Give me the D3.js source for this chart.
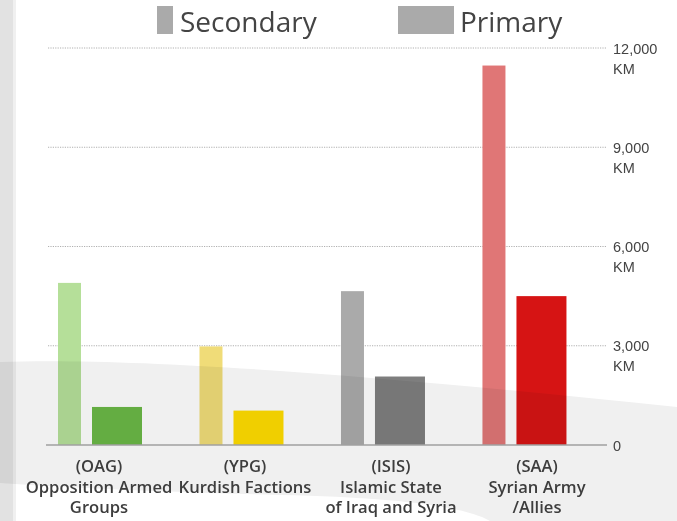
<!DOCTYPE html>
<html>
<head>
<meta charset="utf-8">
<script src="https://cdn.jsdelivr.net/npm/d3@7"></script>
<style>
  body { margin: 0; background: #fff; }
  svg { display: block; }
</style>
</head>
<body>
<div id="chart"></div>
<script>
const categories = ["OAG", "YPG", "ISIS", "SAA"];
const labelLines = [
  ["(OAG)", "Opposition Armed", "Groups"],
  ["(YPG)", "Kurdish Factions"],
  ["(ISIS)", "Islamic State", "of Iraq and Syria"],
  ["(SAA)", "Syrian Army", "/Allies"]
];
const seriesNames = ["Secondary", "Primary"];
const secondaryKm = [4900, 2980, 4650, 11470];
const primaryKm = [1150, 1040, 2070, 4500];
const yTicks = [0, 3000, 6000, 9000, 12000];

const secondaryColors = ["#b5df99", "#f0dc78", "#aaaaaa", "#e07676"];
const primaryColors = ["#6ab846", "#ffdc00", "#7e7e7e", "#d61414"];

const W = 677, H = 521;

const svg = d3.select("#chart").append("svg")
  .attr("width", W)
  .attr("height", H);

// left page edge (textured strip)
svg.append("rect").attr("x", 0).attr("y", 0).attr("width", 16).attr("height", H).attr("fill", "#f0f0f0");
svg.append("rect").attr("x", 0).attr("y", 0).attr("width", 13).attr("height", H).attr("fill", "#e2e2e2");

const y = d3.scaleLinear()
  .domain([0, 12000])
  .range([445, 48]);

const x = d3.scaleBand()
  .domain(categories)
  .range([58, 566.5])
  .paddingInner(0.406)
  .paddingOuter(0);

const labelX = d3.scalePoint()
  .domain(categories)
  .range([99, 537]);

// bar widths inside a group
const sub = {
  Secondary: { offset: 0, width: 23 },
  Primary: { offset: 34, width: 50 }
};

// gridlines
svg.append("g")
  .selectAll("line")
  .data(yTicks.filter(d => d > 0))
  .enter()
  .append("line")
  .attr("x1", 48)
  .attr("x2", 607)
  .attr("y1", d => y(d))
  .attr("y2", d => y(d))
  .attr("stroke", "#b0b0b0")
  .attr("stroke-width", 1)
  .attr("stroke-dasharray", "1.2,1.2");

// bars
const rows = categories.map((c, i) => ({
  cat: c,
  Secondary: secondaryKm[i],
  Primary: primaryKm[i],
  i: i
}));

seriesNames.forEach(s => {
  svg.append("g")
    .selectAll("rect")
    .data(rows)
    .enter()
    .append("rect")
    .attr("x", d => x(d.cat) + sub[s].offset)
    .attr("width", sub[s].width)
    .attr("y", d => y(d[s]))
    .attr("height", d => y(0) - y(d[s]))
    .attr("fill", d => s === "Secondary" ? secondaryColors[d.i] : primaryColors[d.i]);
});

// grey swoosh over the lower part
svg.append("path")
  .attr("d", "M0,362 C150,357 400,378 677,407 L677,521 L490,521 C465,506 390,497 280,495 C160,492 60,487 0,483 Z")
  .attr("fill", "#f0f0f0")
  .style("mix-blend-mode", "multiply");

// baseline
svg.append("line")
  .attr("x1", 46).attr("x2", 607)
  .attr("y1", y(0)).attr("y2", y(0))
  .attr("stroke", "#a0a0a0")
  .attr("stroke-width", 1.5);

// right axis labels
const tickG = svg.append("g")
  .selectAll("text")
  .data(yTicks)
  .enter()
  .append("text")
  .attr("x", 613)
  .attr("y", d => y(d) + 5.5)
  .style("font-family", "'Liberation Sans', Arial, sans-serif")
  .style("font-size", "14.5px")
  .attr("fill", "#444");

tickG.append("tspan").text(d => d3.format(",")(d));
tickG.filter(d => d > 0)
  .append("tspan")
  .attr("x", 613)
  .attr("dy", 20)
  .text("KM");

// category labels, one text per line
const labelRows = [];
rows.forEach(r => {
  labelLines[r.i].forEach((t, j) => labelRows.push({ cat: r.cat, text: t, line: j }));
});

svg.append("g")
  .selectAll("text")
  .data(labelRows)
  .enter()
  .append("text")
  .attr("x", d => labelX(d.cat))
  .attr("y", d => 472 + d.line * 20.5)
  .attr("text-anchor", "middle")
  .style("font-family", "'Open Sans', sans-serif")
  .style("font-weight", 600)
  .style("font-size", "16.6px")
  .attr("fill", "#3d3d3d")
  .text(d => d.text);

// legend
const legend = [
  { name: "Secondary", x: 157, w: 16, tx: 180 },
  { name: "Primary", x: 398, w: 56, tx: 460 }
];

legend.forEach(l => {
  svg.append("rect")
    .attr("x", l.x)
    .attr("y", 6)
    .attr("width", l.w)
    .attr("height", 28)
    .attr("fill", "#aaaaaa");
  svg.append("text")
    .attr("x", l.tx)
    .attr("y", 32)
    .style("font-family", "'Open Sans', sans-serif")
    .style("font-size", "28px")
    .attr("fill", "#444")
    .text(l.name);
});
</script>
</body>
</html>
